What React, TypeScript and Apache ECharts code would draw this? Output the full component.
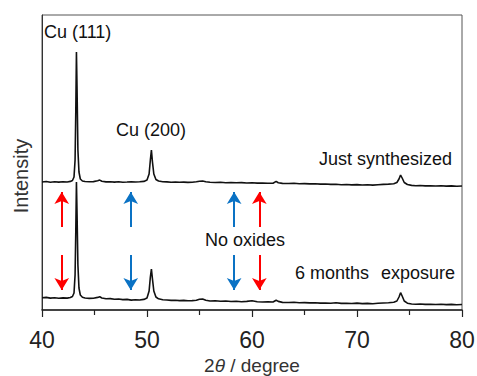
import React, { useEffect, useRef } from "react";
import * as echarts from "echarts";

// 2θ (degree) and relative intensity (arbitrary units, stacked offset)
const justSynthesized: [number, number][] = [
  [40.0, 128.0], [40.4, 128.5], [40.8, 127.8], [41.2, 128.3], [41.6, 127.9], [42.0, 128.2],
  [42.4, 128.0], [42.7, 128.6], [42.9, 129.5], [43.05, 133], [43.15, 150], [43.22, 200],
  [43.28, 258], [43.34, 220], [43.42, 160], [43.52, 138], [43.65, 131], [43.85, 129],
  [44.1, 128.5], [44.5, 128.2], [44.9, 128.4], [45.3, 129.2], [45.5, 129.9], [45.7, 128.8],
  [46.1, 128.1], [46.5, 128.3], [46.9, 127.9], [47.3, 128.2], [47.7, 127.8], [48.1, 128.0],
  [48.5, 128.3], [48.9, 128.0], [49.3, 128.2], [49.7, 128.6], [50.0, 130], [50.2, 136],
  [50.32, 150], [50.42, 160], [50.52, 148], [50.65, 136], [50.85, 130.5], [51.1, 129],
  [51.5, 128.3], [51.9, 128.1], [52.3, 127.8], [52.7, 128.0], [53.1, 127.7], [53.5, 127.9],
  [53.9, 127.6], [54.3, 127.8], [54.7, 128.2], [55.0, 128.8], [55.3, 129.0], [55.6, 128.2],
  [56.0, 127.7], [56.5, 127.5], [57.0, 127.7], [57.5, 127.3], [58.0, 127.5], [58.5, 127.2],
  [59.0, 127.4], [59.5, 127.0], [60.0, 127.2], [60.5, 126.9], [61.0, 127.0], [61.5, 126.7],
  [62.0, 126.8], [62.3, 128.6], [62.5, 127.3], [62.9, 126.6], [63.5, 126.5], [64.0, 126.7],
  [64.5, 126.3], [65.0, 126.4], [65.5, 126.1], [66.0, 126.3], [66.5, 125.9], [67.0, 126.0],
  [67.5, 125.6], [68.0, 125.8], [68.5, 125.3], [69.0, 125.5], [69.5, 125.1], [70.0, 125.4],
  [70.5, 125.0], [71.0, 125.2], [71.5, 124.9], [72.0, 125.3], [72.5, 125.6], [73.0, 125.9],
  [73.5, 126.3], [73.8, 127.5], [74.0, 131], [74.15, 135], [74.3, 132], [74.5, 127.5],
  [74.8, 125.5], [75.2, 124.6], [75.6, 124.3], [76.0, 124.5], [76.5, 124.1], [77.0, 124.3],
  [77.5, 124.0], [78.0, 124.2], [78.5, 123.9], [79.0, 124.1], [79.5, 123.8], [80.0, 124.0],
];

const sixMonths: [number, number][] = [
  [40.0, 12.3], [40.4, 12.6], [40.8, 11.9], [41.2, 12.3], [41.6, 11.8], [42.0, 12.1],
  [42.4, 11.9], [42.7, 12.5], [42.9, 13.5], [43.05, 17], [43.15, 35], [43.22, 80],
  [43.28, 128], [43.34, 95], [43.42, 45], [43.52, 22], [43.65, 15], [43.85, 12.8],
  [44.1, 12.0], [44.5, 11.6], [44.9, 11.8], [45.3, 12.6], [45.5, 13.2], [45.7, 12.0],
  [46.1, 11.2], [46.5, 11.4], [46.9, 10.8], [47.3, 11.0], [47.7, 10.4], [48.1, 10.6],
  [48.5, 9.9], [48.9, 10.2], [49.3, 10.0], [49.7, 10.6], [50.0, 12], [50.2, 19],
  [50.32, 33], [50.42, 41], [50.52, 31], [50.65, 19], [50.85, 13], [51.1, 11.2],
  [51.5, 10.3], [51.9, 10.0], [52.3, 9.6], [52.7, 9.8], [53.1, 9.4], [53.5, 9.6],
  [53.9, 9.2], [54.3, 9.4], [54.7, 9.8], [55.0, 10.8], [55.3, 11.0], [55.6, 9.8],
  [56.0, 9.0], [56.5, 9.3], [57.0, 8.8], [57.5, 9.0], [58.0, 8.5], [58.5, 8.7],
  [59.0, 8.3], [59.5, 8.6], [60.0, 9.2], [60.5, 8.3], [61.0, 8.0], [61.5, 8.2],
  [62.0, 8.0], [62.3, 9.8], [62.5, 8.6], [62.9, 7.6], [63.5, 7.5], [64.0, 7.7],
  [64.5, 7.3], [65.0, 7.4], [65.5, 7.1], [66.0, 7.3], [66.5, 6.9], [67.0, 7.0],
  [67.5, 6.8], [68.0, 7.2], [68.5, 6.6], [69.0, 6.8], [69.5, 6.5], [70.0, 6.9],
  [70.5, 6.4], [71.0, 6.6], [71.5, 6.3], [72.0, 6.7], [72.5, 7.0], [73.0, 7.3],
  [73.5, 7.8], [73.8, 9.0], [74.0, 13], [74.15, 17.3], [74.3, 14], [74.5, 9.0],
  [74.8, 6.8], [75.2, 6.0], [75.6, 5.8], [76.0, 6.0], [76.5, 5.6], [77.0, 5.8],
  [77.5, 5.5], [78.0, 5.7], [78.5, 5.4], [79.0, 5.6], [79.5, 5.3], [80.0, 5.5],
];

// arrow positions (2θ) and vertical extents (intensity units)
const redArrows = [41.88, 60.7];
const blueArrows = [48.45, 58.3];
const upArrow = [83, 118];
const downArrow = [55, 20];

const xMin = 40;
const xMax = 80;
const xInterval = 10;

const FONT = "'Liberation Sans', Arial, Helvetica, sans-serif";

export default function App() {
  const ref = useRef<HTMLDivElement>(null);

  useEffect(() => {
    if (!ref.current) return;
    const chart = echarts.init(ref.current, undefined, { renderer: "svg" });

    const arrowLines: any[] = [];
    const addArrows = (xs: number[], color: string) => {
      xs.forEach((x) => {
        arrowLines.push([
          { coord: [x, upArrow[0]], lineStyle: { color } },
          { coord: [x, upArrow[1]] },
        ]);
        arrowLines.push([
          { coord: [x, downArrow[0]], lineStyle: { color } },
          { coord: [x, downArrow[1]] },
        ]);
      });
    };
    addArrows(redArrows, "#ff0000");
    addArrows(blueArrows, "#0a72c4");

    const textStyle = (text: string, x: number, y: number) => ({
      type: "text",
      x,
      y,
      silent: true,
      style: {
        text,
        fill: "#111",
        font: `18px ${FONT}`,
        textAlign: "left",
        textVerticalAlign: "middle",
      },
    });

    chart.setOption({
      animation: false,
      grid: {
        left: 42,
        right: 15,
        top: 15,
        bottom: 66,
        show: true,
        containLabel: false,
        outerBoundsMode: "none",
        borderColor: "#555",
        borderWidth: 1,
      },
      xAxis: {
        type: "value",
        min: xMin,
        max: xMax,
        interval: xInterval,
        name: "2{i|θ} / degree",
        nameLocation: "middle",
        nameGap: 45,
        nameTextStyle: {
          fontSize: 19,
          color: "#333",
          fontFamily: FONT,
          rich: {
            i: { fontSize: 19, fontStyle: "italic", color: "#333", fontFamily: FONT },
          },
        },
        axisLine: { show: true, lineStyle: { color: "#222", width: 1.5 } },
        axisTick: { show: true, length: 7, inside: false, lineStyle: { color: "#222", width: 1.2 } },
        minorTick: { show: true, splitNumber: 2, length: 5, lineStyle: { color: "#222", width: 1.2 } },
        axisLabel: { fontSize: 23, color: "#222", margin: 18, fontFamily: FONT },
        splitLine: { show: false },
      },
      yAxis: {
        type: "value",
        min: 0,
        max: 295,
        axisLine: { show: true, lineStyle: { color: "#333", width: 1 } },
        axisTick: { show: false },
        axisLabel: { show: false },
        splitLine: { show: false },
      },
      graphic: [
        textStyle("Cu (111)", 44, 32),
        textStyle("Cu (200)", 116, 130),
        textStyle("Just synthesized", 319, 159),
        textStyle("No oxides", 205, 240),
        textStyle("6 months", 295, 273),
        textStyle("exposure", 381, 273),
        {
          type: "text",
          x: 21,
          y: 176,
          rotation: Math.PI / 2,
          silent: true,
          style: {
            text: "Intensity",
            fill: "#333",
            font: `20px ${FONT}`,
            textAlign: "center",
            textVerticalAlign: "middle",
          },
        },
      ],
      series: [
        {
          type: "line",
          name: "Just synthesized",
          data: justSynthesized,
          showSymbol: false,
          lineStyle: { color: "#111", width: 1.6 },
          silent: true,
        },
        {
          type: "line",
          name: "6 months exposure",
          data: sixMonths,
          showSymbol: false,
          lineStyle: { color: "#111", width: 1.6 },
          silent: true,
        },
        {
          type: "line",
          data: [],
          silent: true,
          markLine: {
            silent: true,
            symbol: ["none", "arrow"],
            symbolSize: [11, 12],
            label: { show: false },
            lineStyle: { width: 2, type: "solid" },
            data: arrowLines,
          },
        },
      ],
    });

    return () => chart.dispose();
  }, []);

  return (
    <div
      ref={ref}
      style={{ position: "fixed", left: 0, top: 0, width: 477, height: 376, background: "#fff" }}
    />
  );
}
